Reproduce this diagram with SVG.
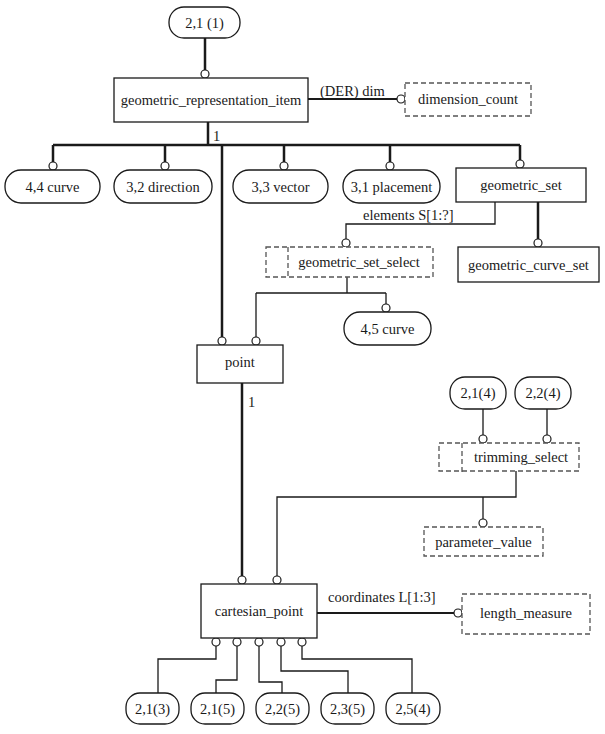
<svg xmlns="http://www.w3.org/2000/svg" width="605" height="734" viewBox="0 0 605 734" font-family="'Liberation Serif','Times New Roman',serif" font-size="14.5">
<style>
text,.c,.l{font-family:"Liberation Serif","Times New Roman",serif;font-size:14.5px;fill:#1a1a1a}
.c{text-anchor:middle}
.box{fill:#fff;stroke:#1a1a1a;stroke-width:1.3}
.pill{fill:#fff;stroke:#1a1a1a;stroke-width:1.3}
.dash{fill:#fff;stroke:#555;stroke-width:1.3;stroke-dasharray:5,3}
.thick{fill:none;stroke:#1a1a1a;stroke-width:2.5}
.thin{fill:none;stroke:#1a1a1a;stroke-width:1.3}
.mid{fill:none;stroke:#1a1a1a;stroke-width:1.8}
.o{fill:#fff;stroke:#1a1a1a;stroke-width:1.2}
</style>
<rect width="605" height="734" fill="#fff"/>
<g id="connectors">
<path class="thick" d="M205 38V70"/>
<path class="mid" d="M308 99H397"/>
<text class="l" x="320" y="96">(DER) dim</text>
<path class="thick" d="M208 122V145M53 145H520M53 145V162M165 145V162M284 145V162M390 145V162M520 145V162"/>
<text class="l" x="213" y="141">1</text>
<path class="thick" d="M222 145V337"/>
<path class="thin" d="M495 202V224H346V239"/>
<text class="l" x="363" y="220">elements S[1:?]</text>
<path class="thick" d="M538 202V239"/>
<path class="thin" d="M347 277V293M256 293H386M256 293V337M386 293V304"/>
<path class="thick" d="M242 383V576"/>
<text class="l" x="248" y="407">1</text>
<path class="thin" d="M483 409V435M547 409V435"/>
<path class="thin" d="M516 471V497H277V576M483 497V519"/>
<path class="mid" d="M317 613H454"/>
<text class="l" x="328" y="602">coordinates L[1:3]</text>
<path class="thin" d="M216 646V659H158V693M237 646V680H216V693M259 646V682H282V693M281 646V671H348V693M302 646V659H412V693"/>
<circle class="o" cx="205" cy="74" r="4"/>
<circle class="o" cx="401" cy="99" r="4"/>
<circle class="o" cx="53" cy="166" r="4"/>
<circle class="o" cx="165" cy="166" r="4"/>
<circle class="o" cx="284" cy="166" r="4"/>
<circle class="o" cx="390" cy="166" r="4"/>
<circle class="o" cx="520" cy="164" r="4"/>
<circle class="o" cx="346" cy="243" r="4"/>
<circle class="o" cx="538" cy="243" r="4"/>
<circle class="o" cx="222" cy="341" r="4"/>
<circle class="o" cx="256" cy="341" r="4"/>
<circle class="o" cx="386" cy="308" r="4"/>
<circle class="o" cx="483" cy="439" r="4"/>
<circle class="o" cx="547" cy="439" r="4"/>
<circle class="o" cx="483" cy="523" r="4"/>
<circle class="o" cx="242" cy="580" r="4"/>
<circle class="o" cx="277" cy="580" r="4"/>
<circle class="o" cx="458" cy="613" r="4"/>
<circle class="o" cx="216" cy="642" r="4"/>
<circle class="o" cx="237" cy="642" r="4"/>
<circle class="o" cx="259" cy="642" r="4"/>
<circle class="o" cx="281" cy="642" r="4"/>
<circle class="o" cx="302" cy="642" r="4"/>
</g>
<g id="n_2_1_1"><rect class="pill" x="169" y="7" width="71" height="31" rx="15"/><text class="c" x="204.5" y="28">2,1 (1)</text></g>
<g id="geometric_representation_item"><rect class="box" x="114" y="78" width="194" height="44"/><text class="c" x="211" y="105">geometric_representation_item</text></g>
<g id="dimension_count"><rect class="dash" x="405" y="83" width="126" height="33"/><text class="c" x="468" y="104">dimension_count</text></g>
<g id="curve_4_4"><rect class="pill" x="5" y="170" width="95" height="33" rx="16"/><text class="c" x="52.5" y="192">4,4 curve</text></g>
<g id="direction_3_2"><rect class="pill" x="114" y="170" width="98" height="33" rx="16"/><text class="c" x="163" y="192">3,2 direction</text></g>
<g id="vector_3_3"><rect class="pill" x="233" y="170" width="95" height="33" rx="16"/><text class="c" x="280.5" y="192">3,3 vector</text></g>
<g id="placement_3_1"><rect class="pill" x="343" y="170" width="97" height="33" rx="16"/><text class="c" x="391.5" y="192">3,1 placement</text></g>
<g id="geometric_set"><rect class="box" x="456" y="168" width="130" height="34"/><text class="c" x="521" y="190">geometric_set</text></g>
<g id="geometric_set_select"><rect class="dash" x="266" y="247" width="167" height="30"/><path class="dash" d="M288 247V277"/><text class="c" x="359" y="267">geometric_set_select</text></g>
<g id="geometric_curve_set"><rect class="box" x="458" y="247" width="141" height="35"/><text class="c" x="528.5" y="270">geometric_curve_set</text></g>
<g id="curve_4_5"><rect class="pill" x="344" y="312" width="87" height="33" rx="16"/><text class="c" x="387.5" y="334">4,5 curve</text></g>
<g id="point"><rect class="box" x="197" y="345" width="86" height="38"/><text class="c" x="240" y="367">point</text></g>
<g id="n_2_1_4"><rect class="pill" x="450" y="377" width="56" height="32" rx="15"/><text class="c" x="478" y="398">2,1(4)</text></g>
<g id="n_2_2_4"><rect class="pill" x="515" y="377" width="56" height="32" rx="15"/><text class="c" x="543" y="398">2,2(4)</text></g>
<g id="trimming_select"><rect class="dash" x="439" y="443" width="140" height="28"/><path class="dash" d="M462 443V473"/><text class="c" x="521" y="462">trimming_select</text></g>
<g id="parameter_value"><rect class="dash" x="424" y="527" width="119" height="29"/><text class="c" x="483.5" y="547">parameter_value</text></g>
<g id="cartesian_point"><rect class="box" x="201" y="584" width="116" height="54"/><text class="c" x="259" y="616">cartesian_point</text></g>
<g id="length_measure"><rect class="dash" x="462" y="594" width="128" height="40"/><text class="c" x="526" y="618">length_measure</text></g>
<g id="n_2_1_3"><rect class="pill" x="126" y="693" width="53" height="31" rx="14"/><text class="c" x="152.5" y="714">2,1(3)</text></g>
<g id="n_2_1_5"><rect class="pill" x="191" y="693" width="53" height="31" rx="14"/><text class="c" x="217.5" y="714">2,1(5)</text></g>
<g id="n_2_2_5"><rect class="pill" x="256" y="693" width="53" height="31" rx="14"/><text class="c" x="282.5" y="714">2,2(5)</text></g>
<g id="n_2_3_5"><rect class="pill" x="321" y="693" width="53" height="31" rx="14"/><text class="c" x="347.5" y="714">2,3(5)</text></g>
<g id="n_2_5_4"><rect class="pill" x="386" y="693" width="54" height="31" rx="14"/><text class="c" x="413" y="714">2,5(4)</text></g>
</svg>
